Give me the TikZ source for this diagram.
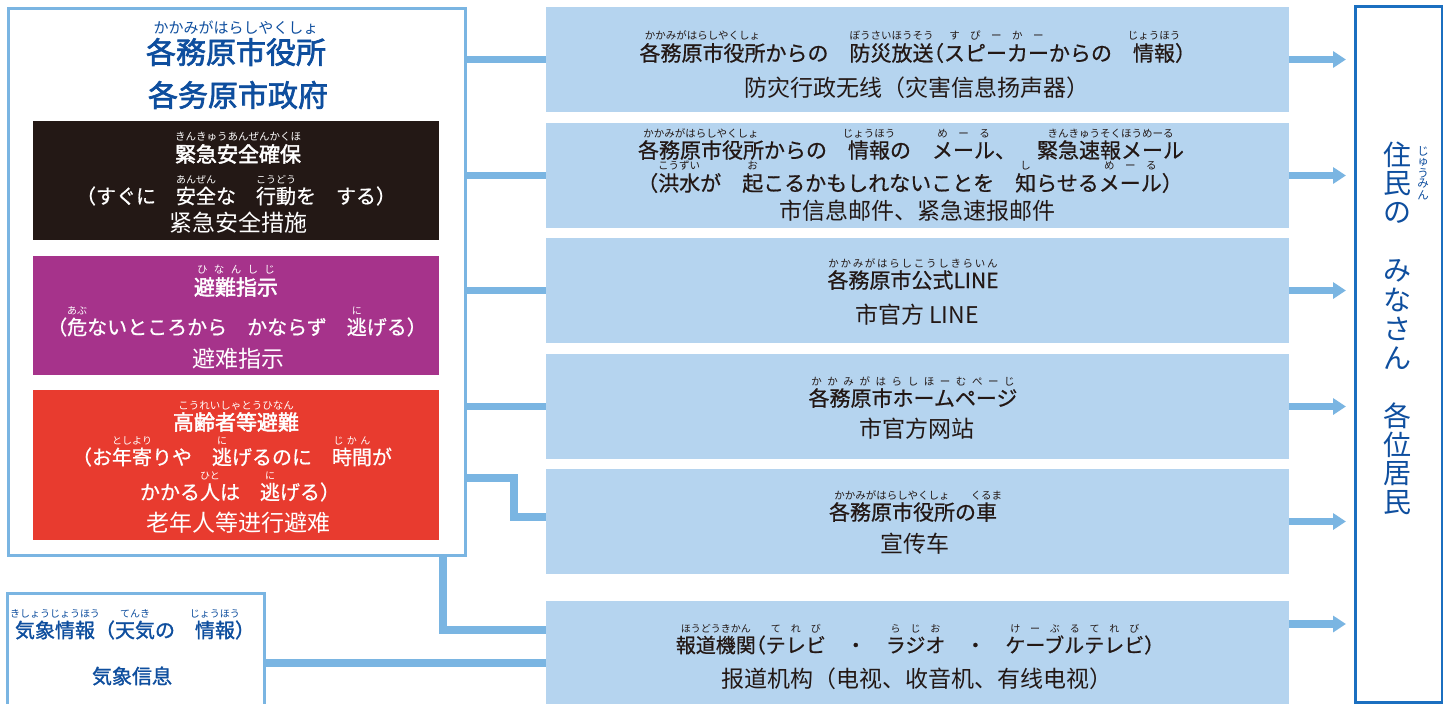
\documentclass[tikz,border=0pt]{standalone}
\usepackage{fontspec}
\setmainfont{Noto Sans CJK JP}
\newfontfamily\zh{Noto Sans CJK SC}
\newfontfamily\jpmed{Noto Sans CJK JP}[FakeBold=0.7]
\newfontfamily\jpmid{Noto Sans CJK JP}[FakeBold=1.3]
\newfontfamily\jpsemi{Noto Sans CJK JP}[FakeBold=2.2]
\newfontfamily\zhsemi{Noto Sans CJK SC}[FakeBold=2.2]
\usetikzlibrary{arrows.meta}
\definecolor{lineblue}{HTML}{7AB5E2}
\definecolor{boxblue}{HTML}{B5D4EF}
\definecolor{titleblue}{HTML}{0E4E9E}
\definecolor{rbblue}{HTML}{1B6FC0}
\definecolor{kblack}{HTML}{231815}
\definecolor{kpurple}{HTML}{A6338B}
\definecolor{kred}{HTML}{E83B2F}
\definecolor{ink}{HTML}{231815}
\newcommand\fs[1]{\fontsize{#1}{#1}\selectfont}
\newcommand\rubyf{\normalfont\edef\rbsz{\the\dimexpr.5em\relax}\fontsize{\rbsz}{\rbsz}\selectfont}
\newcommand\rb[2]{\leavevmode\setbox0\hbox{#1}\rlap{\smash{\raisebox{1em}{\hbox to\wd0{\hss\rubyf#2\hss}}}}\box0}
\def\sploop#1{\ifx\relax#1\else\hfil#1\hfil\expandafter\sploop\fi}
\newcommand\rbs[2]{\leavevmode\setbox0\hbox{#1}\rlap{\smash{\raisebox{1em}{\hbox to\wd0{\rubyf\sploop#2\relax}}}}\box0}
\newcommand\lp{\makebox[.5em][r]{（}}
\newcommand\rp{\makebox[.5em][l]{）}}
\tikzset{
  frame/.style={draw=lineblue, line width=3pt, fill=white, inner sep=0pt},
  cbox/.style={inner sep=0pt, outer sep=0pt, minimum width=406pt},
  mbox/.style={fill=boxblue, inner sep=0pt, outer sep=0pt, minimum width=743pt, minimum height=105pt},
  txt/.style={inner sep=0pt, outer sep=0pt, anchor=center},
  wtxt/.style={txt, text=white},
  btxt/.style={txt, text=titleblue},
  ktxt/.style={txt, text=ink, font=\jpmed\fs{21}},
  ztxt/.style={txt, text=ink, font=\zh\fs{23}},
  conn/.style={draw=lineblue, line width=7.5pt},
  arr/.style={conn, -{Triangle[length=13pt,width=16pt]}, shorten >=8.25pt},
}
\begin{document}
\begin{tikzpicture}[x=1pt,y=-1pt]
\useasboundingbox (0,0) rectangle (1451,704);
\clip (0,0) rectangle (1451,704);
% left main box
\node[frame, minimum width=457.5pt, minimum height=547.5pt] (L) at (236.75,281.75) {};
\node[cbox, fill=kblack, minimum height=119pt] (K) at (236,180.5) {};
\node[cbox, fill=kpurple, minimum height=119pt] (P) at (236,315.5) {};
\node[cbox, fill=kred, minimum height=150pt] (R) at (236,465) {};
% weather box
\node[frame, minimum width=256.5pt, minimum height=146.5pt] (W) at (135.75,666.75) {};
% middle boxes
\node[mbox] (M1) at (917.5,59.5) {};
\node[mbox] (M2) at (917.5,175.5) {};
\node[mbox] (M3) at (917.5,290.5) {};
\node[mbox] (M4) at (917.5,406.5) {};
\node[mbox] (M5) at (917.5,521.5) {};
\node[mbox, minimum height=119pt] (M6) at (917.5,660.5) {};
% right box
\node[draw=rbblue, line width=2.5pt, inner sep=0pt, minimum width=86.5pt, minimum height=696pt] (Rb) at (1398.75,354.5) {};

% connectors
\draw[conn] (L.east |- M1.west) -- (M1.west);
\draw[conn] (L.east |- M2.west) -- (M2.west);
\draw[conn] (L.east |- M3.west) -- (M3.west);
\draw[conn] (L.east |- M4.west) -- (M4.west);
\coordinate (c5a) at (514,478);
\coordinate (c5b) at (514,517);
\draw[conn] (L.east |- c5a) -- (c5a) -- (c5b) -- (M5.west |- c5b);
\coordinate (c6) at (443,630);
\draw[conn] (L.south -| c6) -- (c6) -- (M6.west |- c6);
\coordinate (c7) at (0,663);
\draw[conn] (W.east |- c7) -- (M6.west |- c7);
% arrows to residents
\draw[arr] (M1.east) -- (Rb.west |- M1.east);
\draw[arr] (M2.east) -- (Rb.west |- M2.east);
\draw[arr] (M3.east) -- (Rb.west |- M3.east);
\draw[arr] (M4.east) -- (Rb.west |- M4.east);
\draw[arr] (M5.east) -- (Rb.west |- M5.east);
\coordinate (a6) at (0,624);
\draw[arr] (M6.east |- a6) -- (Rb.west |- a6);

% left title
\node[btxt, font=\jpsemi\fs{30}] (t1) at (236,52) {\rb{各務原市役所}{かかみがはらしやくしょ}};
\node[btxt, font=\zhsemi\fs{30}] (t2) at (238,95) {各务原市政府};
% black box
\node[wtxt, font=\jpsemi\fs{21}] (k1) at (238,154) {\rb{緊急安全確保}{きんきゅうあんぜんかくほ}};
\node[wtxt, font=\jpmed\fs{20}] (k2) at (236,196) {（すぐに　\rb{安全}{あんぜん}な　\rb{行動}{こうどう}を　する）};
\node[wtxt, font=\zh\fs{23}] (k3) at (238,223) {紧急安全措施};
% purple box
\node[wtxt, font=\jpsemi\fs{21}] (p1) at (236,287) {\rbs{避難指示}{ひなんしじ}};
\node[wtxt, font=\jpmed\fs{20}] (p2) at (237,327) {\lp\rb{危}{あぶ}ないところから　かならず　\rb{逃}{に}げる\rp};
\node[wtxt, font=\zh\fs{23}] (p3) at (238,359) {避难指示};
% red box
\node[wtxt, font=\jpsemi\fs{21}] (r1) at (236,422) {\rb{高齢者等避難}{こうれいしゃとうひなん}};
\node[wtxt, font=\jpmed\fs{20}] (r2) at (237,457) {\lp お\rbs{年寄}{としより}りや　\rb{逃}{に}げるのに　\rbs{時間}{じかん}が};
\node[wtxt, font=\jpmed\fs{20}] (r3) at (235,492) {かかる\rb{人}{ひと}は　\rb{逃}{に}げる\rp};
\node[wtxt, font=\zh\fs{23}] (r4) at (238,523) {老年人等进行避难};
% weather
\node[btxt, font=\jpmid\fs{20}] (w1) at (135,630) {\rb{気象情報}{きしょうじょうほう}（\rb{天気}{てんき}の　\rb{情報}{じょうほう}）};
\node[btxt, font=\jpmid\fs{20}] (w2) at (132,676) {気象信息};
% middle texts
\node[ktxt] (m1a) at (912.5,53) {\rb{各務原市役所}{かかみがはらしやくしょ}からの　\rb{防災放送}{ぼうさいほうそう}\lp\rbs{スピーカー}{すぴーかー}からの　\rb{情報}{じょうほう}\rp};
\node[ztxt] (m1b) at (917,88) {防灾行政无线（灾害信息扬声器）};
\node[ktxt] (m2a) at (911,150) {\rb{各務原市役所}{かかみがはらしやくしょ}からの　\rb{情報}{じょうほう}の　\rbs{メール}{めーる}、　\rb{緊急速報メール}{きんきゅうそくほうめーる}};
\node[ktxt] (m2b) at (910,183) {\lp\rb{洪水}{こうずい}が　\rb{起}{お}こるかもしれないことを　\rb{知}{し}らせる\rbs{メール}{めーる}\rp};
\node[ztxt] (m2c) at (917,211) {市信息邮件、紧急速报邮件};
\node[ktxt] (m3a) at (913,280) {\rbs{各務原市公式LINE}{かかみがはらしこうしきらいん}};
\node[ztxt] (m3b) at (917,315) {市官方 LINE};
\node[ktxt] (m4a) at (913,398) {\rbs{各務原市ホームページ}{かかみがはらしほーむぺーじ}};
\node[ztxt] (m4b) at (917,429) {市官方网站};
\node[ktxt] (m5a) at (913,512) {\rb{各務原市役所}{かかみがはらしやくしょ}の\rb{車}{くるま}};
\node[ztxt] (m5b) at (915,544) {宣传车};
\node[ktxt, font=\jpmed\fs{20}] (m6a) at (915,645) {\rb{報道機関}{ほうどうきかん}\lp\rbs{テレビ}{てれび}　・　\rbs{ラジオ}{らじお}　・　\rbs{ケーブルテレビ}{けーぶるてれび}\rp};
\node[ztxt] (m6b) at (917,679) {报道机构（电视、收音机、有线电视）};
% right vertical text
\foreach \i/\c in {0/住,1/民,2/の,4/み,5/な,6/さ,7/ん,9/各,10/位,11/居,12/民}
  \node[btxt, font=\fs{28}] (v\i) at (1397,155+29*\i) {\c};
\foreach \i/\c in {0/じ,1/ゅ,2/う,3/み,4/ん}
  \node[btxt, font=\fs{11.5}] (u\i) at (1423,151+11*\i) {\c};
\end{tikzpicture}
\end{document}
